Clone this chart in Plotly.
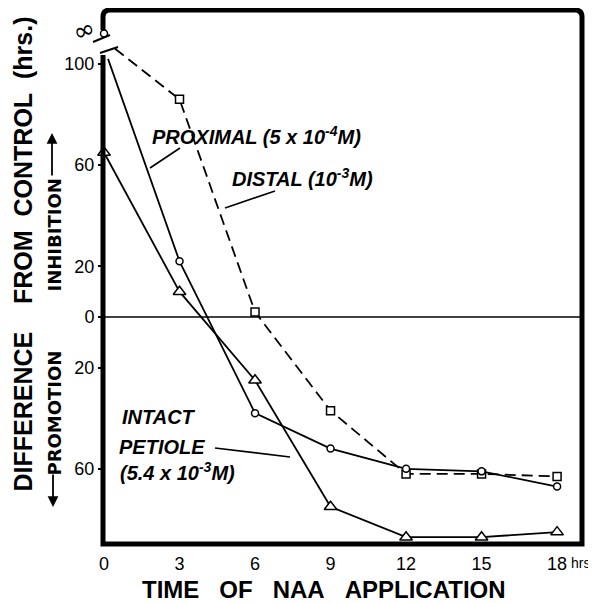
import plotly.graph_objects as go

# ---------------- data ----------------
HOURS = [0, 3, 6, 9, 12, 15, 18]
X_TICK_LABELS = ["0", "3", "6", "9", "12", "15", "18"]
Y_TICK_VALUES = [100, 60, 20, 0, -20, -60]
Y_TICK_LABELS = ["100", "60", "20", "0", "20", "60"]

# None at 0 h = off-scale value (infinity), drawn above the axis break
PROXIMAL = [None, 22, -38, -52, -60, -61, -67]
DISTAL = [None, 86, 2, -37, -62, -62, -63]
INTACT = [65, 10, -25, -75, -87, -87, -85]

INFINITY_Y = 112          # level at which the "infinity" point is drawn
PROX_BREAK = (0.16, 102)  # where the proximal line leaves the axis break
DIST_BREAK = (0.44, 106)  # where the distal line leaves the axis break

# ---------------- layout geometry (page pixels) ----------------
PAGE_W, PAGE_H = 596, 603
OFF = 8                      # default body margin of the page
W, H = PAGE_W - OFF, PAGE_H - OFF
L, R, T, B = 103, 582, 10, 544   # plot frame in page pixels
X_RANGE = [-0.04, 18.99]
Y_RANGE = [-89.7, 121.3]


def px(x):
    return (x - L) / (R - L)


def py(y):
    return (B - y) / (B - T)


BLACK = "black"
SANS = "Liberation Sans"

fig = go.Figure()

# lines
fig.add_trace(go.Scatter(
    x=[DIST_BREAK[0]] + HOURS[1:], y=[DIST_BREAK[1]] + DISTAL[1:],
    mode="lines", line=dict(color=BLACK, width=1.8, dash="11px,6px"),
    hoverinfo="skip", showlegend=False))
fig.add_trace(go.Scatter(
    x=[PROX_BREAK[0]] + HOURS[1:], y=[PROX_BREAK[1]] + PROXIMAL[1:],
    mode="lines", line=dict(color=BLACK, width=1.8),
    hoverinfo="skip", showlegend=False))
fig.add_trace(go.Scatter(
    x=HOURS, y=INTACT, mode="lines", line=dict(color=BLACK, width=1.8),
    hoverinfo="skip", showlegend=False))

# markers
mk = dict(color="white", line=dict(color=BLACK, width=1.5))
fig.add_trace(go.Scatter(
    x=HOURS[1:], y=DISTAL[1:], mode="markers",
    marker=dict(symbol="square", size=8, **mk), name="Distal", showlegend=False))
fig.add_trace(go.Scatter(
    x=HOURS[1:], y=PROXIMAL[1:], mode="markers",
    marker=dict(symbol="circle", size=7, **mk), name="Proximal", showlegend=False))
fig.add_trace(go.Scatter(
    x=[HOURS[0]], y=[INFINITY_Y], mode="markers", cliponaxis=False,
    marker=dict(symbol="circle", size=7, **mk), name="Proximal (inf)", showlegend=False))
fig.add_trace(go.Scatter(
    x=HOURS, y=INTACT, mode="markers", cliponaxis=False,
    marker=dict(symbol="triangle-up", size=11, **mk), name="Intact", showlegend=False))

# ---------------- shapes ----------------
rx, ry = 7 / (R - L), 7 / (B - T)
frame_path = (
    f"M 0,{py(55)} L 0,0 L 1,0 L 1,{1-ry} Q 1,1 {1-rx},1 "
    f"L {rx},1 Q 0,1 0,{1-ry} L 0,{py(30)}"
)
shapes = [
    dict(type="path", xref="paper", yref="paper", path=frame_path,
         line=dict(color=BLACK, width=5), fillcolor="rgba(0,0,0,0)", layer="above"),
    # axis break slashes
    dict(type="line", xref="paper", yref="paper", x0=px(93), y0=py(42), x1=px(110), y1=py(35),
         line=dict(color=BLACK, width=2)),
    dict(type="line", xref="paper", yref="paper", x0=px(100), y0=py(53), x1=px(118), y1=py(47),
         line=dict(color=BLACK, width=2)),
    # zero line
    dict(type="line", xref="paper", yref="y", x0=0, x1=1, y0=0, y1=0,
         line=dict(color=BLACK, width=1.5), layer="below"),
    # leader lines
    dict(type="line", xref="paper", yref="paper", x0=px(180), y0=py(148), x1=px(150), y1=py(168),
         line=dict(color=BLACK, width=1.6)),
    dict(type="line", xref="paper", yref="paper", x0=px(275), y0=py(191), x1=px(225), y1=py(208),
         line=dict(color=BLACK, width=1.6)),
    dict(type="line", xref="paper", yref="paper", x0=px(215), y0=py(448), x1=px(290), y1=py(457),
         line=dict(color=BLACK, width=1.6)),
]

# ---------------- annotations ----------------
NB = "\u00a0"
lab_font = dict(family=SANS, size=20, color=BLACK, weight="bold", style="italic")
ann = [
    dict(text=f"DIFFERENCE{NB*4}FROM{NB*2}CONTROL{NB*2}(hrs.)", x=px(22.5), y=py(254),
         textangle=-90, font=dict(family=SANS, size=25, color=BLACK, weight="bold")),
    dict(text="INHIBITION", x=px(53.5), y=py(235), textangle=-90,
         font=dict(family="DejaVu Sans", size=18, color=BLACK, weight="bold")),
    dict(text="PROMOTION", x=px(53.5), y=py(413), textangle=-90,
         font=dict(family="DejaVu Sans", size=18, color=BLACK, weight="bold")),
    dict(text=f"TIME{NB*3}OF{NB*3}NAA{NB*3}APPLICATION", x=px(324), y=py(589),
         font=dict(family=SANS, size=24, color=BLACK, weight="bold")),
    dict(text="\u221e", x=px(84), y=py(30), textangle=-20,
         font=dict(family="DejaVu Sans", size=26, color=BLACK)),
    dict(text="hrs.", x=px(569), y=py(563), xanchor="left",
         font=dict(family=SANS, size=14, color=BLACK)),
    dict(text="PROXIMAL (5 x 10<sup>-4</sup>M)", x=px(150), y=py(135), xanchor="left", font=lab_font),
    dict(text="DISTAL (10<sup>-3</sup>M)", x=px(230), y=py(177), xanchor="left", font=lab_font),
    dict(text="INTACT", x=px(120), y=py(417), xanchor="left", font=lab_font),
    dict(text="PETIOLE", x=px(117), y=py(447), xanchor="left", font=lab_font),
    dict(text="(5.4 x 10<sup>-3</sup>M)", x=px(118), y=py(471), xanchor="left", font=lab_font),
]
for a in ann:
    a.setdefault("xref", "paper")
    a.setdefault("yref", "paper")
    a.setdefault("showarrow", False)
    a.setdefault("xanchor", "center")
    a.setdefault("yanchor", "middle")

# arrows next to INHIBITION / PROMOTION
ann.append(dict(text="", x=px(52), y=py(133), xref="paper", yref="paper", ax=0, ay=44,
                showarrow=True, arrowhead=2, arrowsize=1.2, arrowwidth=1.8, arrowcolor=BLACK))
ann.append(dict(text="", x=px(53), y=py(507), xref="paper", yref="paper", ax=0, ay=-34,
                showarrow=True, arrowhead=2, arrowsize=1.2, arrowwidth=1.8, arrowcolor=BLACK))

fig.update_layout(
    width=W, height=H,
    margin=dict(l=L - OFF, r=PAGE_W - R, t=T - OFF, b=PAGE_H - B, pad=0),
    paper_bgcolor="white", plot_bgcolor="white",
    shapes=shapes, annotations=ann, showlegend=False,
    font=dict(family=SANS, color=BLACK),
)
fig.update_xaxes(
    range=X_RANGE, showgrid=False, zeroline=False, showline=False,
    tickmode="array", tickvals=HOURS, ticktext=X_TICK_LABELS,
    ticks="", ticklabelstandoff=7, tickfont=dict(family=SANS, size=18, color=BLACK),
)
fig.update_yaxes(
    range=Y_RANGE, showgrid=False, zeroline=False, showline=False,
    tickmode="array", tickvals=Y_TICK_VALUES, ticktext=Y_TICK_LABELS,
    ticks="outside", ticklen=4, tickwidth=2, tickcolor=BLACK,
    tickfont=dict(family=SANS, size=18, color=BLACK),
)

fig.write_html("out.html")
